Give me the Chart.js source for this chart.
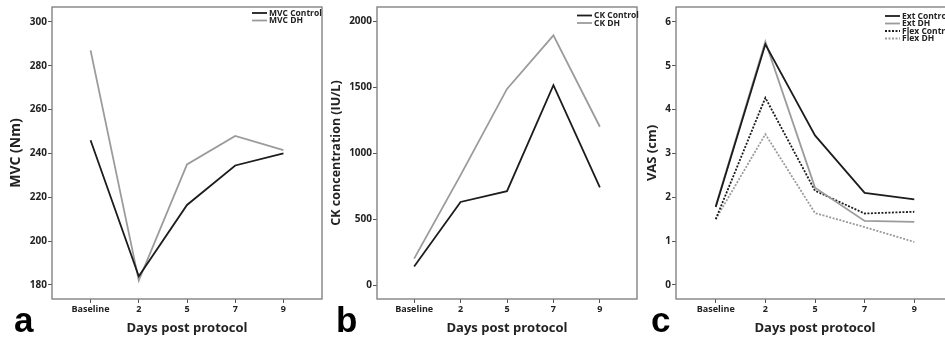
<!DOCTYPE html>
<html>
<head>
<meta charset="utf-8">
<script src="https://cdn.jsdelivr.net/npm/chart.js@4/dist/chart.umd.min.js"></script>
<style>
  html, body { margin: 0; padding: 0; background: #fff; }
  #wrap { position: relative; width: 945px; height: 339px; overflow: hidden; }
  canvas { position: absolute; top: 0; }
  .tag { position: absolute; font: bold 35px "Liberation Sans", Arial, sans-serif; line-height: 35px; color: #000; }
</style>
</head>
<body>
<div id="wrap">
  <canvas id="chartA" width="330" height="339" style="left:0"></canvas>
  <canvas id="chartB" width="318" height="339" style="left:324px"></canvas>
  <canvas id="chartC" width="320" height="339" style="left:640px"></canvas>
  <div class="tag" style="left:14px; top:302px">a</div>
  <div class="tag" style="left:336px; top:302px">b</div>
  <div class="tag" style="left:651px; top:302px">c</div>
</div>
<script>
const categories = ['Baseline', '2', '5', '7', '9'];

const mvcControl = [246, 184, 216.5, 234.5, 240];
const mvcDH = [287, 182, 235, 248, 241.5];
const ckControl = [140, 630, 712, 1515, 740];
const ckDH = [200, 833, 1487, 1893, 1200];
const extControl = [1.78, 5.49, 3.41, 2.1, 1.95];
const extDH = [1.8, 5.55, 2.22, 1.46, 1.44];
const flexControl = [1.5, 4.27, 2.15, 1.63, 1.67];
const flexDH = [1.5, 3.44, 1.64, 1.32, 0.98];

const yTicksA = [180, 200, 220, 240, 260, 280, 300];
const yTicksB = [0, 500, 1000, 1500, 2000];
const yTicksC = [0, 1, 2, 3, 4, 5, 6];

const FONT = '"Open Sans", sans-serif';
const DARK = '#1c1c1c';
const GREY = '#9b9b9b';

// frame round the plot area
const framePlugin = {
    id: 'frame',
    beforeDatasetsDraw(chart) {
        const a = chart.chartArea;
        const c = chart.ctx;
        c.save();
        c.strokeStyle = '#7a7a7a';
        c.lineWidth = 1.3;
        c.strokeRect(a.left, a.top, a.right - a.left, a.bottom - a.top);
        c.restore();
    }
};

// small legend in the top right corner
const keyPlugin = {
    id: 'key',
    afterDraw(chart, args, opts) {
        const a = chart.chartArea;
        const c = chart.ctx;
        const x0 = a.right - opts.fromRight;
        c.save();
        c.font = 'bold 8.5px ' + FONT;
        c.textBaseline = 'middle';
        chart.data.datasets.forEach((ds, i) => {
            const y = a.top + opts.y0 + i * 7.5;
            c.strokeStyle = ds.borderColor;
            c.lineWidth = ds.borderWidth;
            c.setLineDash(ds.borderDash || []);
            c.beginPath();
            c.moveTo(x0, y);
            c.lineTo(x0 + 15, y);
            c.stroke();
            c.fillStyle = '#222';
            c.fillText(ds.label, x0 + 17, y + 0.5);
        });
        c.restore();
    }
};

function line(label, values, color, dash) {
    return {
        label: label,
        data: values.map((v, i) => ({ x: i, y: v })),
        borderColor: color,
        borderWidth: 1.8,
        borderDash: dash || [],
        pointRadius: 0,
        fill: false,
        tension: 0
    };
}

function makeChart(id, datasets, o) {
    return new Chart(document.getElementById(id), {
        type: 'line',
        data: { datasets: datasets },
        plugins: [framePlugin, keyPlugin],
        options: {
            responsive: false,
            animation: false,
            devicePixelRatio: 1,
            layout: { padding: { left: 0, top: 6, right: o.padRight, bottom: 0 } },
            plugins: {
                legend: { display: false },
                tooltip: { enabled: false },
                key: { fromRight: o.keyRight, y0: o.keyTop }
            },
            scales: {
                x: {
                    type: 'linear',
                    min: -0.8,
                    max: 4.8,
                    afterBuildTicks: s => { s.ticks = categories.map((c, i) => ({ value: i })); },
                    afterFit: s => { s.height = 40; },
                    ticks: {
                        autoSkip: false,
                        maxRotation: 0,
                        padding: 1,
                        color: '#222',
                        font: { family: FONT, weight: 'bold', size: 9 },
                        callback: v => categories[v]
                    },
                    grid: { drawOnChartArea: false, drawTicks: true, tickLength: 4, color: '#555' },
                    border: { display: false },
                    title: {
                        display: true,
                        text: 'Days post protocol',
                        color: '#222',
                        font: { family: FONT, weight: 'bold', size: 13 },
                        padding: { top: 0, bottom: 3 }
                    }
                },
                y: {
                    min: o.yMin,
                    max: o.yMax,
                    afterBuildTicks: s => { s.ticks = o.yTicks.map(v => ({ value: v })); },
                    afterFit: s => { s.width = o.axisWidth; },
                    ticks: {
                        padding: 1,
                        color: '#222',
                        font: { family: FONT, weight: 'bold', size: 10 },
                        callback: v => String(v)
                    },
                    grid: { drawOnChartArea: false, drawTicks: true, tickLength: 4, color: '#555' },
                    border: { display: false },
                    title: {
                        display: true,
                        text: o.yTitle,
                        color: '#222',
                        font: { family: FONT, weight: 'bold', size: o.titleSize },
                        padding: { top: o.titleTop, bottom: 0 }
                    }
                }
            }
        }
    });
}

makeChart('chartA', [
    line('MVC Control', mvcControl, DARK),
    line('MVC DH', mvcDH, GREY)
], { yMin: 173.6, yMax: 306.8, yTicks: yTicksA, yTitle: 'MVC (Nm)', titleSize: 14, axisWidth: 52, titleTop: 7.5, padRight: 8, keyRight: 70, keyTop: 6 });

makeChart('chartB', [
    line('CK Control', ckControl, DARK),
    line('CK DH', ckDH, GREY)
], { yMin: -106, yMax: 2108, yTicks: yTicksB, yTitle: 'CK concentration (IU/L)', titleSize: 12.5, axisWidth: 53, titleTop: 5, padRight: 5, keyRight: 60, keyTop: 8.5 });

makeChart('chartC', [
    line('Ext Control', extControl, DARK),
    line('Ext DH', extDH, GREY),
    line('Flex Control', flexControl, DARK, [2, 1.5]),
    line('Flex DH', flexDH, GREY, [2, 1.5])
], { yMin: -0.32, yMax: 6.34, yTicks: yTicksC, yTitle: 'VAS (cm)', titleSize: 13, axisWidth: 36, titleTop: 4, padRight: 6, keyRight: 69, keyTop: 9 });
</script>
</body>
</html>
